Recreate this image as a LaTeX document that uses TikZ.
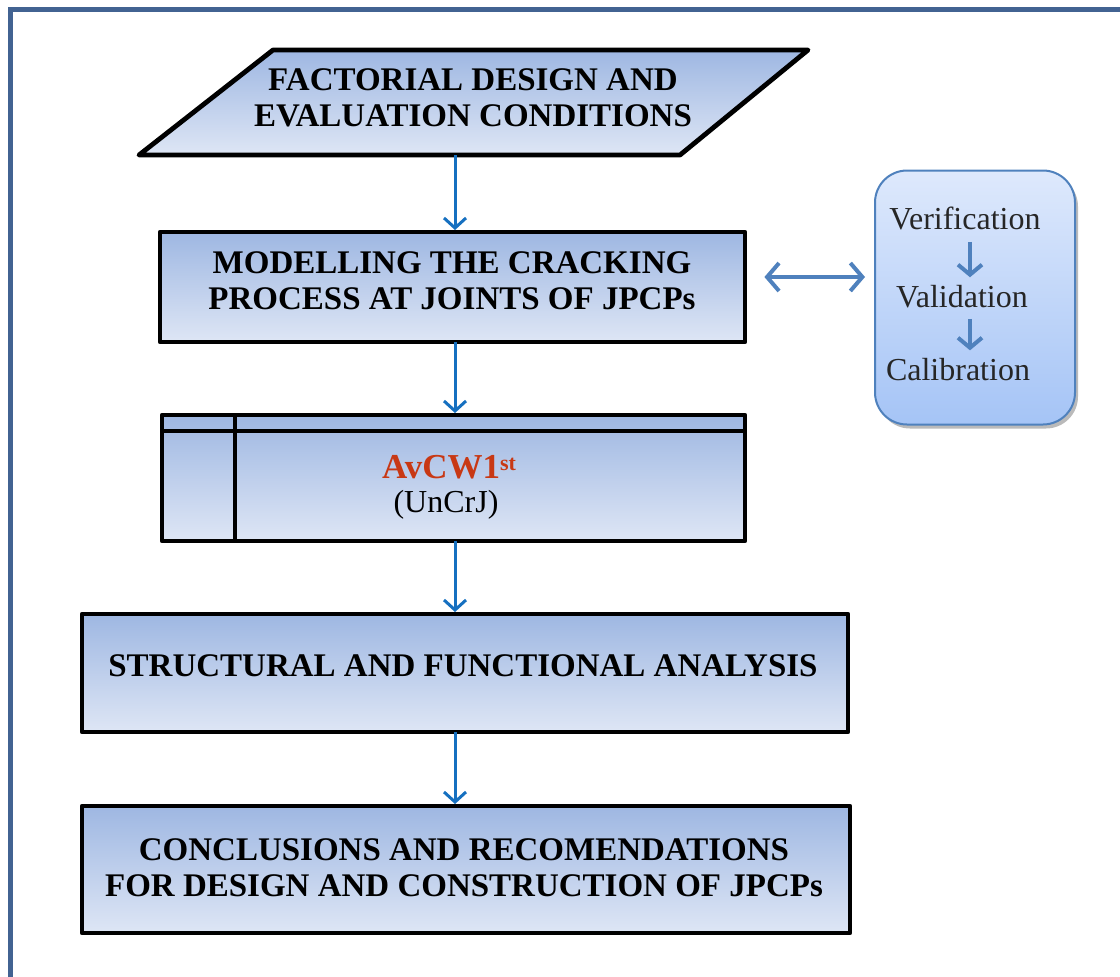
\documentclass[tikz,border=0pt]{standalone}
\usepackage{fontspec}
\setmainfont{Liberation Serif}
\usetikzlibrary{arrows.meta,shadows}
\definecolor{framecol}{RGB}{66,99,146}
\definecolor{flowblue}{RGB}{22,112,192}
\definecolor{sideblue}{RGB}{79,129,189}
\definecolor{boxtop}{RGB}{158,183,226}
\definecolor{boxbot}{RGB}{222,230,245}
\definecolor{rtop}{RGB}{222,233,252}
\definecolor{rbot}{RGB}{165,196,246}
\definecolor{redtxt}{RGB}{200,56,20}
\tikzset{
  stepbox/.style={draw=black, line width=2.4pt, top color=boxtop, bottom color=boxbot, line join=round, inner sep=0pt},
  boxtext/.style={font=\fontsize{16.5}{18}\selectfont\bfseries, align=center, inner sep=0pt},
  flow/.style={draw=flowblue, line width=1.5pt, -{Straight Barb[length=5pt,width=11pt]}},
  sidearrow/.style={draw=sideblue, line width=2pt, {Straight Barb[length=6pt,width=14pt]}-{Straight Barb[length=6pt,width=14pt]}},
  minorarrow/.style={draw=sideblue, line width=2pt, -{Straight Barb[length=5pt,width=12pt]}},
  sidetext/.style={font=\fontsize{16}{18}\selectfont, inner sep=0pt, text=black!85}
}
\begin{document}
\begin{tikzpicture}[x=0.5pt,y=-0.5pt]
\useasboundingbox (0,0) rectangle (1120,976);
% outer frame, running off the right and bottom edges
\draw[framecol, line width=2.6pt] (10.5,990) -- (10.5,9.5) -- (1130,9.5);

% input parallelogram
\path[stepbox] (273,50) -- (808,50) -- (680,155) -- (139,155) -- cycle;
\node[boxtext] (fact) at (473,98) {FACTORIAL DESIGN AND\\EVALUATION CONDITIONS};
\coordinate (factbot) at (455,155);

% modelling step
\node[stepbox, minimum width=292.5pt, minimum height=55pt] (model) at (452.5,287) {};
\node[boxtext] (modeltxt) at (452,281) {MODELLING THE CRACKING\\PROCESS AT JOINTS OF JPCPs};

% verification / validation / calibration panel
\node[draw=sideblue, line width=1pt, rounded corners=16pt, top color=rtop, bottom color=rbot,
      minimum width=100pt, minimum height=127pt,
      drop shadow={shadow xshift=1.5pt, shadow yshift=-2pt, fill=black!45, opacity=0.6}] (vvc) at (975,297.5) {};
\node[sidetext] (ver) at (965,218) {Verification};
\node[sidetext] (val) at (962,297) {Validation};
\node[sidetext] (cal) at (958,370) {Calibration};
\draw[minorarrow] ([xshift=2.5pt,yshift=-6pt]ver.south) -- ([xshift=4pt,yshift=4pt]val.north);
\draw[minorarrow] ([xshift=4pt,yshift=-5pt]val.south) -- ([xshift=6pt,yshift=4pt]cal.north);
\draw[sidearrow] ([xshift=8.5pt,yshift=5pt]model.east) -- ([xshift=-4.5pt,yshift=10.25pt]vvc.west);

% AvCW1st step, drawn as a table-like box
\node[stepbox, minimum width=291.5pt, minimum height=63pt] (avcw) at (453.5,478) {};
\draw[black, line width=2.4pt] (162,431) -- (745,431);
\draw[black, line width=2.4pt] (235,415) -- (235,541);
\node[font=\fontsize{17.5}{19}\selectfont\bfseries, text=redtxt, inner sep=0pt] (avtxt) at (449,467)
  {AvCW1\raisebox{0.5ex}{\fontsize{11}{12}\selectfont st}};
\node[font=\fontsize{16}{18}\selectfont, inner sep=0pt] (avsub) at (446,505) {(UnCrJ)};

% analysis step
\node[stepbox, minimum width=383pt, minimum height=59pt] (anal) at (465,673) {};
\node[boxtext] (analtxt) at (463,666) {STRUCTURAL AND FUNCTIONAL ANALYSIS};

% conclusions step
\node[stepbox, minimum width=384pt, minimum height=63.5pt] (concl) at (466,869.5) {};
\node[boxtext] (concltxt) at (464,868) {CONCLUSIONS AND RECOMENDATIONS\\FOR DESIGN AND CONSTRUCTION OF JPCPs};

% main flow
\draw[flow] (factbot) -- (455,230);
\draw[flow] (455,342) -- (455,413);
\draw[flow] (455,541) -- (455,612);
\draw[flow] (455,732) -- (455,804);
\end{tikzpicture}
\end{document}
